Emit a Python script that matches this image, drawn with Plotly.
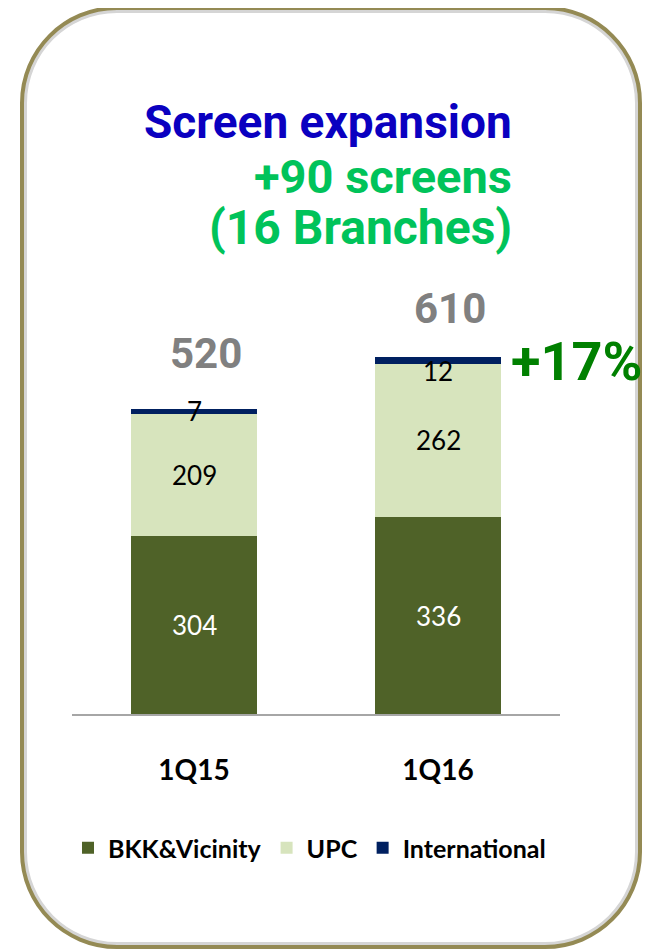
import plotly.graph_objects as go

categories = ["1Q15", "1Q16"]
bkk = [304, 336]
upc = [209, 262]
intl = [7, 12]
totals = [520, 610]
series_names = ["BKK&Vicinity", "UPC", "International"]
series_colors = ["#4F6228", "#D7E4BD", "#002060"]
growth_label = "+17%"

# page body has an 8px margin; lay the figure out in window pixel coordinates
OFF = 8
W, H = 652 - OFF, 951 - OFF

def px(x):
    return (x - OFF) / W

def py(y):
    return 1 - (y - OFF) / H

def rounded_path(L, T, R, B, r):
    k = 0.5523 * r
    pts = [
        f"M {px(L + r)},{py(T)}",
        f"L {px(R - r)},{py(T)}",
        f"C {px(R - r + k)},{py(T)} {px(R)},{py(T + r - k)} {px(R)},{py(T + r)}",
        f"L {px(R)},{py(B - r)}",
        f"C {px(R)},{py(B - r + k)} {px(R - r + k)},{py(B)} {px(R - r)},{py(B)}",
        f"L {px(L + r)},{py(B)}",
        f"C {px(L + r - k)},{py(B)} {px(L)},{py(B - r + k)} {px(L)},{py(B - r)}",
        f"L {px(L)},{py(T + r)}",
        f"C {px(L)},{py(T + r - k)} {px(L + r - k)},{py(T)} {px(L + r)},{py(T)}",
        "Z",
    ]
    return " ".join(pts)

fig = go.Figure()
for name, vals, col in zip(series_names, [bkk, upc, intl], series_colors):
    fig.add_trace(go.Bar(
        x=categories, y=vals, name=name, marker=dict(color=col, line=dict(width=0)),
        width=0.516, hoverinfo="skip",
    ))

annotations = []
for i, c in enumerate(categories):
    base = 0
    for j, vals in enumerate([bkk, upc, intl]):
        v = vals[i]
        mid = base + v / 2
        ys = 0
        if j == 2 and i == 1:
            ys = -11
        annotations.append(dict(
            x=c, y=mid, text=str(v), showarrow=False, yshift=ys,
            font=dict(family="Lato", size=26, color="white" if j == 0 else "black"),
        ))
        base += v
    annotations.append(dict(
        x=c, y=totals[i], text=f"<b>{totals[i]}</b>", showarrow=False,
        yanchor="middle", yshift=[56, 48][i], xshift=12,
        font=dict(family="Roboto", size=42, color="#808080"),
    ))

annotations.append(dict(
    x=categories[1], y=totals[1], text=f"<b>{growth_label}</b>", showarrow=False,
    xanchor="left", yanchor="middle", xshift=71, yshift=-5,
    font=dict(family="Roboto", size=54, color="#008000"),
))

annotations.append(dict(
    xref="paper", yref="paper", x=px(514), y=py(122), xanchor="right", yanchor="middle",
    text="<b>Screen expansion</b>", showarrow=False,
    font=dict(family="Roboto", size=46, color="#0A00C0"),
))
annotations.append(dict(
    xref="paper", yref="paper", x=px(514), y=py(176), xanchor="right", yanchor="middle",
    text="<b>+90 screens</b>", showarrow=False,
    font=dict(family="Roboto", size=47, color="#00C35A"),
))
annotations.append(dict(
    xref="paper", yref="paper", x=px(514), y=py(227), xanchor="right", yanchor="middle",
    text="<b>(16 Branches)</b>", showarrow=False,
    font=dict(family="Roboto", size=48, color="#00C35A"),
))

shapes = [
    dict(type="path", xref="paper", yref="paper",
         path=rounded_path(25, 11, 637, 944, 92),
         line=dict(color="#D5D5D5", width=4), layer="below"),
    dict(type="path", xref="paper", yref="paper",
         path=rounded_path(22, 8, 640, 947, 95),
         line=dict(color="#948A54", width=4), layer="above"),
]

fig.update_layout(
    width=W, height=H,
    margin=dict(l=0, r=0, t=0, b=0),
    paper_bgcolor="white", plot_bgcolor="white",
    barmode="stack",
    xaxis=dict(
        domain=[px(72), px(560)], range=[-0.5, 1.5],
        showline=True, linecolor="#A6A6A6", linewidth=2,
        showgrid=False, zeroline=False, ticks="",
        tickfont=dict(family="Lato", size=28, color="black", weight="bold"),
        ticklabelstandoff=30,
    ),
    yaxis=dict(
        domain=[py(714), py(304)], range=[0, 700],
        visible=False, showgrid=False, zeroline=False,
    ),
    legend=dict(
        orientation="h", x=px(68), y=py(848), xanchor="left", yanchor="middle",
        font=dict(family="Lato", size=25, color="black", weight="bold"),
        traceorder="normal", itemwidth=30, bgcolor="rgba(0,0,0,0)",
    ),
    annotations=annotations,
    shapes=shapes,
    showlegend=True,
)

fig.write_html("out.html")
